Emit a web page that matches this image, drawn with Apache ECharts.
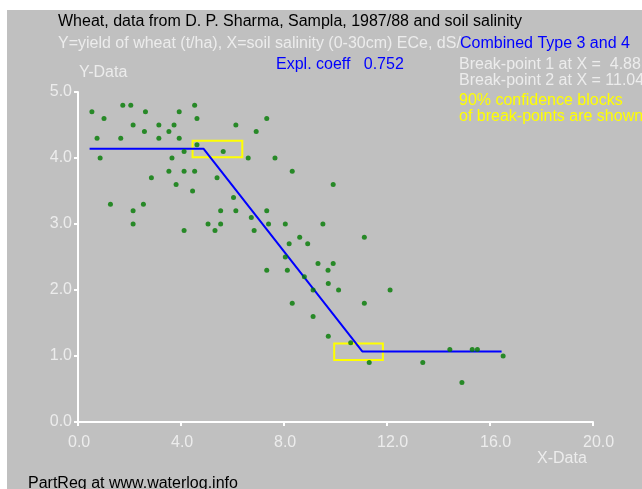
<!DOCTYPE html>
<html>
<head>
<meta charset="utf-8">
<script src="https://cdn.jsdelivr.net/npm/echarts@6/dist/echarts.min.js"></script>
<style>
  html, body { margin: 0; padding: 0; background: #fff; }
  #main { width: 642px; height: 489px; }
</style>
</head>
<body>
<div id="main"></div>
<script>
// observed data: soil salinity ECe (dS/m) vs wheat yield (t/ha)
var salinity = [
  0.54, 1.01, 1.74, 2.05, 2.62, 2.14, 2.58, 3.14, 3.53, 3.73,
  3.93, 4.53, 4.62, 6.13, 6.92, 0.74, 1.66, 3.14, 3.93, 0.86,
  4.12, 4.62, 5.64, 6.61, 3.65, 3.53, 4.12, 4.53, 2.85, 3.81,
  4.45, 5.40, 6.04, 1.26, 2.54, 2.14, 5.54, 6.13, 6.73, 2.14,
  5.05, 5.54, 4.12, 5.32, 6.84, 7.65, 8.32, 9.91, 7.33, 7.40,
  8.05, 9.51, 8.61, 11.12, 8.20, 8.92, 8.05, 9.32, 9.91, 7.33,
  8.13, 9.71, 8.79, 9.72, 10.12, 9.13, 8.32, 11.12, 9.13, 9.72,
  12.12, 10.59, 14.44, 15.31, 15.51, 16.51, 11.31, 13.39, 14.91, 7.33
];
var yieldT = [
  4.7, 4.6, 4.8, 4.8, 4.7, 4.5, 4.4, 4.5, 4.4, 4.5,
  4.7, 4.8, 4.6, 4.5, 4.4, 4.3, 4.3, 4.3, 4.3, 4.0,
  4.1, 4.2, 4.1, 4.0, 4.0, 3.8, 3.8, 3.8, 3.7, 3.6,
  3.5, 3.7, 3.4, 3.3, 3.3, 3.2, 3.2, 3.2, 3.1, 3.0,
  3.0, 3.0, 2.9, 2.9, 2.9, 4.0, 3.8, 3.6, 3.2, 3.0,
  3.0, 3.0, 2.8, 2.8, 2.7, 2.7, 2.5, 2.4, 2.4, 2.3,
  2.3, 2.3, 2.2, 2.1, 2.0, 2.0, 1.8, 1.8, 1.6, 1.3,
  2.0, 1.2, 1.1, 1.1, 1.1, 1.0, 0.9, 0.9, 0.6, 4.6
];

// segmented regression line (break-points 4.88 and 11.04)
var fitX = [0.45, 4.88, 11.04, 16.45];
var fitY = [4.14, 4.14, 1.07, 1.07];

// 90% confidence blocks of the break-points [xFrom, xTo, yTop, yBottom]
var block1 = [4.45, 6.38, 4.26, 4.01];
var block2 = [9.95, 11.84, 1.19, 0.94];

var xTicks = [0, 4, 8, 12, 16, 20];
var yTicks = [0, 1, 2, 3, 4, 5];

var FONT = '"Liberation Sans", Arial, sans-serif';
var LIGHT = '#ececec';

var points = salinity.map(function (x, i) { return [x, yieldT[i]]; });
var fitLine = fitX.map(function (x, i) { return [x, fitY[i]]; });

function txt(x, y, s, color) {
  return {
    type: 'text', left: x, top: y - 6, z: 10,
    style: { text: s, fill: color, font: '16px ' + FONT }
  };
}

var chart = echarts.init(document.getElementById('main'), null, { renderer: 'canvas' });

var option = {
  backgroundColor: '#ffffff',
  animation: false,
  graphic: [
    { type: 'rect', shape: { x: 7, y: 10, width: 640, height: 485 }, style: { fill: '#c0c0c0' }, z: -10 },
    txt(58, 20, 'Wheat, data from D. P. Sharma, Sampla, 1987/88 and soil salinity', '#000000'),
    txt(58, 42, 'Y=yield of wheat (t/ha), X=soil salinity (0-30cm) ECe, dS/', LIGHT),
    txt(460, 42, 'Combined Type 3 and 4', '#0000ff'),
    txt(276, 63, 'Expl. coeff   0.752', '#0000ff'),
    txt(459, 63, 'Break-point 1 at X =  4.88', LIGHT),
    txt(459, 79, 'Break-point 2 at X = 11.04', LIGHT),
    txt(459, 99, '90% confidence blocks', '#ffff00'),
    txt(459, 115, 'of break-points are shown', '#ffff00'),
    txt(79, 71, 'Y-Data', LIGHT),
    txt(537, 457, 'X-Data', LIGHT),
    txt(28, 482, 'PartReg at www.waterlog.info', '#000000')
  ],
  grid: { left: 78, right: 49, top: 92, bottom: 67 },
  xAxis: {
    type: 'value', min: xTicks[0], max: xTicks[xTicks.length - 1], interval: 4,
    axisLine: { lineStyle: { color: '#ffffff', width: 2 } },
    axisTick: { length: 4, lineStyle: { color: '#ffffff', width: 2 } },
    splitLine: { show: false },
    axisLabel: {
      color: LIGHT, fontSize: 16, fontFamily: FONT, margin: 13,
      align: 'left', padding: [0, 0, 0, -10],
      formatter: function (v) { return v.toFixed(1); }
    }
  },
  yAxis: {
    type: 'value', min: yTicks[0], max: yTicks[yTicks.length - 1], interval: 1,
    axisLine: { lineStyle: { color: '#ffffff', width: 2 } },
    axisTick: { length: 4, lineStyle: { color: '#ffffff', width: 2 } },
    splitLine: { show: false },
    axisLabel: {
      color: LIGHT, fontSize: 16, fontFamily: FONT, margin: 6,
      formatter: function (v) { return v.toFixed(1); }
    }
  },
  series: [
    {
      type: 'line',
      data: fitLine,
      symbol: 'none',
      lineStyle: { color: '#0000ff', width: 2 },
      z: 3,
      markArea: {
        silent: true,
        itemStyle: { color: 'rgba(0,0,0,0)', borderColor: '#ffff00', borderWidth: 2 },
        data: [
          [{ coord: [block1[0], block1[2]] }, { coord: [block1[1], block1[3]] }],
          [{ coord: [block2[0], block2[2]] }, { coord: [block2[1], block2[3]] }]
        ]
      }
    },
    {
      type: 'scatter',
      data: points,
      symbolSize: 5,
      itemStyle: { color: '#007a00' },
      z: 4
    }
  ]
};
chart.setOption(option);
</script>
</body>
</html>
